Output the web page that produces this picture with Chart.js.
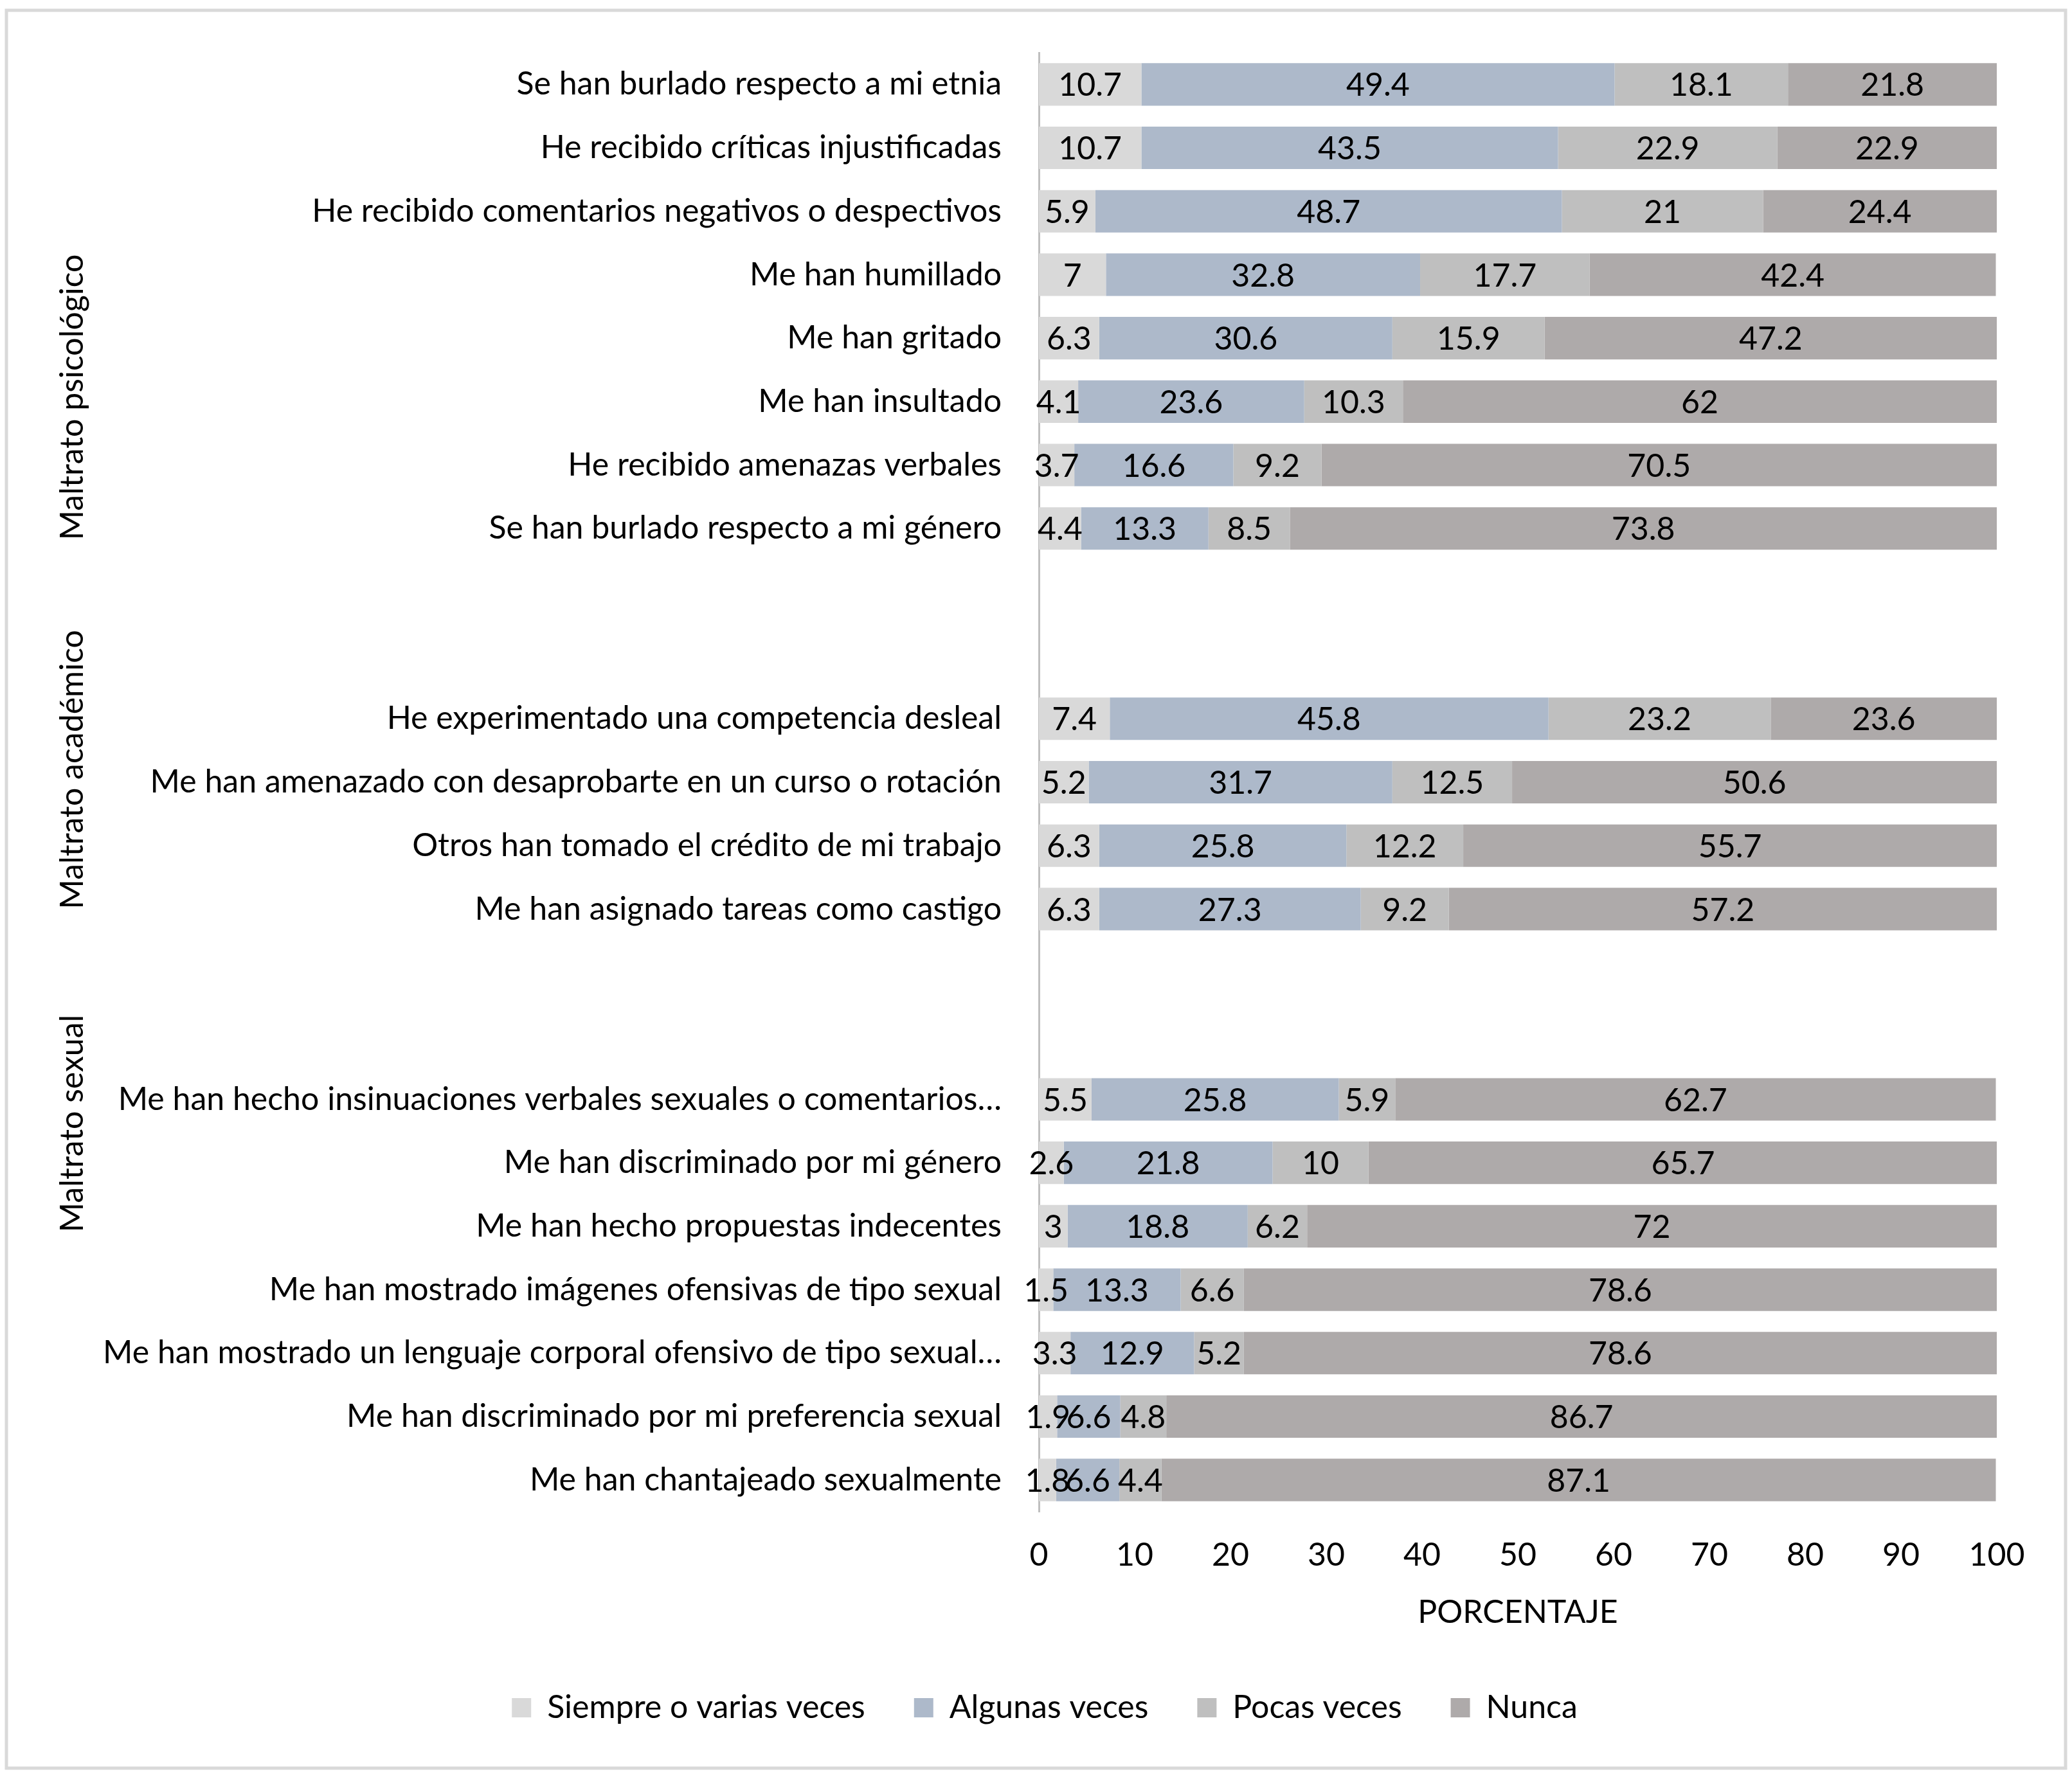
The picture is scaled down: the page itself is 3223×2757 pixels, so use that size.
<!DOCTYPE html>
<html>
<head>
<meta charset="utf-8">
<script src="https://cdn.jsdelivr.net/npm/chart.js@4/dist/chart.umd.min.js"></script>
<style>
  html, body { margin: 0; padding: 0; background: #fff; }
  #wrap { position: relative; width: 3223px; height: 2757px; }
</style>
</head>
<body>
<div id="wrap"><canvas id="chart"></canvas></div>
<script>
// categories (empty strings are the gaps between groups)
var categories = [
  "Se han burlado respecto a mi etnia",
  "He recibido críticas injustificadas",
  "He recibido comentarios negativos o despectivos",
  "Me han humillado",
  "Me han gritado",
  "Me han insultado",
  "He recibido amenazas verbales",
  "Se han burlado respecto a mi género",
  "", "",
  "He experimentado una competencia desleal",
  "Me han amenazado con desaprobarte en un curso o rotación",
  "Otros han tomado el crédito de mi trabajo",
  "Me han asignado tareas como castigo",
  "", "",
  "Me han hecho insinuaciones verbales sexuales o comentarios…",
  "Me han discriminado por mi género",
  "Me han hecho propuestas indecentes",
  "Me han mostrado imágenes ofensivas de tipo sexual",
  "Me han mostrado un lenguaje corporal ofensivo de tipo sexual…",
  "Me han discriminado por mi preferencia sexual",
  "Me han chantajeado sexualmente"
];
var siempre = [10.7, 10.7, 5.9, 7, 6.3, 4.1, 3.7, 4.4, null, null, 7.4, 5.2, 6.3, 6.3, null, null, 5.5, 2.6, 3, 1.5, 3.3, 1.9, 1.8];
var algunas = [49.4, 43.5, 48.7, 32.8, 30.6, 23.6, 16.6, 13.3, null, null, 45.8, 31.7, 25.8, 27.3, null, null, 25.8, 21.8, 18.8, 13.3, 12.9, 6.6, 6.6];
var pocas   = [18.1, 22.9, 21, 17.7, 15.9, 10.3, 9.2, 8.5, null, null, 23.2, 12.5, 12.2, 9.2, null, null, 5.9, 10, 6.2, 6.6, 5.2, 4.8, 4.4];
var nunca   = [21.8, 22.9, 24.4, 42.4, 47.2, 62, 70.5, 73.8, null, null, 23.6, 50.6, 55.7, 57.2, null, null, 62.7, 65.7, 72, 78.6, 78.6, 86.7, 87.1];
var seriesNames = ["Siempre o varias veces", "Algunas veces", "Pocas veces", "Nunca"];
var groupNames = ["Maltrato psicológico", "Maltrato académico", "Maltrato sexual"];
var xTicks = [0, 10, 20, 30, 40, 50, 60, 70, 80, 90, 100];

var FONT = "Lato, 'Open Sans', sans-serif";
var FS = 50;

// value labels centred in each bar segment
var barLabels = {
  id: "barLabels",
  afterDatasetsDraw: function (chart) {
    var ctx = chart.ctx;
    ctx.save();
    ctx.font = FS + "px " + FONT;
    ctx.fillStyle = "#000";
    ctx.textAlign = "center";
    ctx.textBaseline = "middle";
    chart.data.datasets.forEach(function (ds, di) {
      var meta = chart.getDatasetMeta(di);
      meta.data.forEach(function (el, i) {
        var v = ds.data[i];
        if (v === null || v === undefined) return;
        var p = el.getProps(["x", "y", "base"], true);
        ctx.fillText(String(v), (p.x + p.base) / 2, p.y + 2);
      });
    });
    ctx.restore();
  }
};

// rotated group titles, outer frame, legend nudged to the right like the original
var extras = {
  id: "extras",
  afterLayout: function (chart) {
    chart.legend.left += 72;
    chart.legend.right += 72;
  },
  afterDraw: function (chart) {
    var ctx = chart.ctx;
    var y = chart.scales.y;
    var spots = [4.93, 10.8, 16.38];
    ctx.save();
    ctx.font = FS + "px " + FONT;
    ctx.fillStyle = "#000";
    ctx.textAlign = "center";
    ctx.textBaseline = "middle";
    groupNames.forEach(function (g, i) {
      ctx.save();
      ctx.translate(113, y.getPixelForValue(spots[i]));
      ctx.rotate(-Math.PI / 2);
      ctx.fillText(g, 0, 0);
      ctx.restore();
    });
    ctx.strokeStyle = "#d9d9d9";
    ctx.lineWidth = 5;
    ctx.strokeRect(10, 16, 3203, 2735);
    ctx.restore();
  }
};

var colors = ["#d9d9d9", "#adb9ca", "#bfbfbf", "#aeaaaa"];
var seriesData = [siempre, algunas, pocas, nunca];

new Chart(document.getElementById("chart"), {
  type: "bar",
  data: {
    labels: categories,
    datasets: seriesNames.map(function (name, i) {
      return {
        label: name,
        data: seriesData[i],
        backgroundColor: colors[i],
        borderWidth: 0,
        categoryPercentage: 1,
        barPercentage: 0.67
      };
    })
  },
  options: {
    indexAxis: "y",
    responsive: true,
    maintainAspectRatio: false,
    devicePixelRatio: 1,
    animation: false,
    layout: { padding: { top: 82, right: 117, left: 0, bottom: 65 } },
    plugins: {
      tooltip: { enabled: false },
      legend: {
        position: "bottom",
        labels: {
          font: { family: FONT, size: FS },
          color: "#000",
          boxWidth: 30,
          boxHeight: 30,
          padding: 76
        }
      }
    },
    scales: {
      x: {
        stacked: true,
        min: 0,
        max: 100,
        afterBuildTicks: function (s) { s.ticks = xTicks.map(function (v) { return { value: v }; }); },
        grid: { display: false },
        border: { display: false },
        ticks: { font: { family: FONT, size: FS }, color: "#000", padding: 30 },
        title: { display: true, text: "PORCENTAJE", font: { family: FONT, size: FS }, color: "#000", padding: { top: 4, bottom: 17 } },
        afterFit: function (s) { s.height = 204; }
      },
      y: {
        stacked: true,
        grid: { display: false },
        border: { display: true, color: "#bfbfbf", width: 3 },
        ticks: { font: { family: FONT, size: FS }, color: "#000", padding: 50, autoSkip: false },
        afterFit: function (s) { s.width = 1616; }
      }
    }
  },
  plugins: [barLabels, extras]
});
</script>
</body>
</html>
